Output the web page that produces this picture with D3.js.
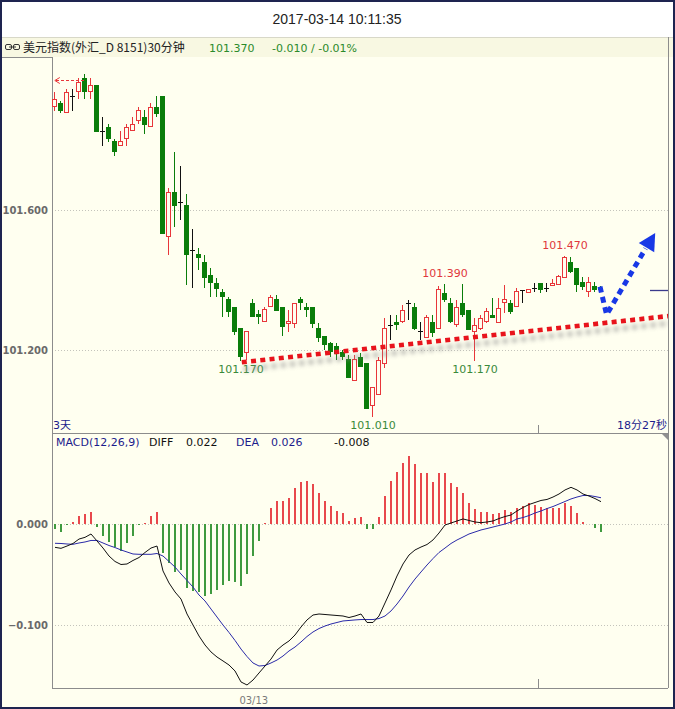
<!DOCTYPE html>
<html><head><meta charset="utf-8">
<script src="https://cdn.jsdelivr.net/npm/d3@7/dist/d3.min.js"></script>
<style>html,body{margin:0;padding:0;background:#fff;} svg{display:block;}</style>
</head><body>
<svg id="c" width="675" height="709"></svg>
<script>
// ---------- DATA ----------
const titleText = "2017-03-14 10:11:35";
const symbolName = "美元指数(外汇_D 8151)30分钟";
const lastPrice = "101.370";
const changeText = "-0.010 / -0.01%";
const opens  = [101.895,101.905,101.876,101.927,101.936,101.976,101.936,101.956,101.825,101.836,101.797,101.784,101.804,101.825,101.855,101.865,101.836,101.895,101.926,101.524,101.652,101.624,101.613,101.486,101.473,101.452,101.414,101.392,101.367,101.345,101.322,101.262,101.191,101.333,101.302,101.279,101.322,101.345,101.322,101.274,101.274,101.345,101.322,101.322,101.262,101.240,101.219,101.211,101.195,101.173,101.112,101.181,101.162,101.041,101.071,101.160,101.272,101.281,101.281,101.333,101.322,101.255,101.233,101.281,101.259,101.364,101.333,101.271,101.333,101.314,101.252,101.259,101.281,101.300,101.276,101.333,101.333,101.324,101.371,101.364,101.376,101.392,101.376,101.383,101.386,101.405,101.452,101.433,101.395,101.367,101.383,101.377];
const highs  = [101.936,101.912,101.945,101.945,101.976,101.989,101.976,101.956,101.865,101.846,101.804,101.827,101.846,101.865,101.894,101.885,101.905,101.926,101.926,101.664,101.765,101.726,101.645,101.546,101.492,101.471,101.433,101.406,101.373,101.352,101.322,101.262,101.254,101.345,101.314,101.324,101.357,101.357,101.322,101.314,101.333,101.352,101.333,101.322,101.277,101.240,101.224,101.219,101.200,101.186,101.186,101.191,101.162,101.095,101.181,101.292,101.301,101.300,101.329,101.343,101.333,101.281,101.300,101.300,101.383,101.390,101.348,101.343,101.388,101.314,101.291,101.300,101.319,101.348,101.348,101.386,101.343,101.376,101.371,101.373,101.392,101.392,101.392,101.402,101.414,101.470,101.466,101.433,101.409,101.409,101.395,101.383];
const lows   = [101.884,101.876,101.876,101.884,101.916,101.916,101.916,101.824,101.784,101.794,101.755,101.784,101.784,101.825,101.846,101.817,101.836,101.865,101.531,101.471,101.551,101.571,101.386,101.377,101.429,101.377,101.352,101.352,101.295,101.295,101.243,101.170,101.171,101.293,101.274,101.279,101.322,101.312,101.240,101.252,101.262,101.314,101.295,101.262,101.224,101.200,101.181,101.171,101.171,101.119,101.112,101.152,101.031,101.010,101.071,101.148,101.229,101.257,101.276,101.286,101.257,101.229,101.233,101.238,101.259,101.338,101.276,101.267,101.293,101.257,101.170,101.257,101.276,101.291,101.276,101.305,101.303,101.324,101.333,101.364,101.367,101.364,101.367,101.383,101.386,101.405,101.421,101.367,101.371,101.352,101.367,101.366];
const closes = [101.916,101.884,101.936,101.927,101.965,101.936,101.956,101.824,101.825,101.804,101.765,101.797,101.836,101.846,101.885,101.844,101.895,101.874,101.531,101.651,101.612,101.624,101.471,101.486,101.464,101.405,101.391,101.373,101.352,101.309,101.252,101.181,101.254,101.293,101.295,101.316,101.352,101.312,101.267,101.283,101.333,101.333,101.314,101.274,101.233,101.214,101.195,101.189,101.181,101.119,101.173,101.152,101.031,101.093,101.171,101.262,101.272,101.271,101.314,101.333,101.259,101.255,101.293,101.248,101.373,101.343,101.281,101.322,101.300,101.257,101.271,101.291,101.312,101.291,101.319,101.345,101.309,101.369,101.371,101.373,101.376,101.371,101.376,101.392,101.411,101.465,101.424,101.386,101.381,101.395,101.371,101.370];
const macdHist = [-0.0052,-0.0076,-0.0005,0.0023,0.0082,0.0096,0.0122,-0.0027,-0.0116,-0.0175,-0.0225,-0.0267,-0.0191,-0.0116,-0.0005,0.0005,0.0082,0.0116,-0.0290,-0.0386,-0.0472,-0.0455,-0.0631,-0.0663,-0.0676,-0.0710,-0.0693,-0.0653,-0.0604,-0.0561,-0.0571,-0.0611,-0.0492,-0.0317,-0.0165,0.0005,0.0155,0.0231,0.0231,0.0260,0.0359,0.0419,0.0429,0.0393,0.0310,0.0231,0.0181,0.0132,0.0112,0.0033,0.0062,0.0072,-0.0052,-0.0047,0.0072,0.0280,0.0429,0.0512,0.0607,0.0673,0.0591,0.0508,0.0502,0.0413,0.0502,0.0502,0.0403,0.0369,0.0304,0.0205,0.0146,0.0122,0.0122,0.0099,0.0112,0.0139,0.0119,0.0155,0.0178,0.0205,0.0188,0.0171,0.0161,0.0161,0.0161,0.0211,0.0181,0.0106,0.0023,0,-0.0043,-0.0080];
const diffLine = [-0.0231,-0.0241,-0.0218,-0.0193,-0.0149,-0.0132,-0.0099,-0.0168,-0.0238,-0.0317,-0.0371,-0.0401,-0.0396,-0.0361,-0.0332,-0.0282,-0.0238,-0.0218,-0.0465,-0.0584,-0.0673,-0.0743,-0.0891,-0.1000,-0.1109,-0.1198,-0.1267,-0.1317,-0.1356,-0.1396,-0.1455,-0.1564,-0.1594,-0.1545,-0.1475,-0.1406,-0.1337,-0.1248,-0.1198,-0.1158,-0.1099,-0.1020,-0.0950,-0.0901,-0.0891,-0.0896,-0.0901,-0.0906,-0.0911,-0.0926,-0.0911,-0.0891,-0.0975,-0.0975,-0.0911,-0.0782,-0.0653,-0.0515,-0.0396,-0.0307,-0.0257,-0.0228,-0.0203,-0.0158,-0.0089,-0.0010,0.0010,0.0030,0.0050,0.0035,0.0020,0.0013,0.0020,0.0030,0.0054,0.0074,0.0089,0.0129,0.0163,0.0193,0.0213,0.0233,0.0243,0.0267,0.0297,0.0337,0.0363,0.0337,0.0297,0.0277,0.0252,0.0221];
const deaLine = [-0.0191,-0.0193,-0.0198,-0.0201,-0.0188,-0.0178,-0.0163,-0.0163,-0.0188,-0.0213,-0.0233,-0.0257,-0.0277,-0.0297,-0.0300,-0.0300,-0.0300,-0.0292,-0.0317,-0.0371,-0.0426,-0.0495,-0.0559,-0.0624,-0.0703,-0.0762,-0.0842,-0.0921,-0.1000,-0.1074,-0.1153,-0.1238,-0.1312,-0.1376,-0.1406,-0.1401,-0.1376,-0.1347,-0.1307,-0.1257,-0.1218,-0.1168,-0.1114,-0.1069,-0.1035,-0.1010,-0.0990,-0.0975,-0.0960,-0.0955,-0.0950,-0.0946,-0.0946,-0.0946,-0.0936,-0.0911,-0.0861,-0.0792,-0.0713,-0.0624,-0.0545,-0.0475,-0.0406,-0.0342,-0.0282,-0.0238,-0.0193,-0.0158,-0.0129,-0.0099,-0.0079,-0.0059,-0.0045,-0.0030,-0.0015,0.0000,0.0020,0.0050,0.0064,0.0084,0.0109,0.0129,0.0153,0.0173,0.0198,0.0223,0.0248,0.0267,0.0282,0.0282,0.0272,0.0260];
const priceTicks = [101.2, 101.6];
const macdTicks = [0, -0.1];
const extremeLabels = [
  {i:31, v:101.170, kind:"low"}, {i:53, v:101.010, kind:"low"},
  {i:65, v:101.390, kind:"high"}, {i:70, v:101.170, kind:"low"},
  {i:85, v:101.470, kind:"high"}];
const trendLine = [{i:31.3, v:101.165}, {i:102.4, v:101.297}];
const forecastPath = [{i:91, v:101.381}, {i:92.1, v:101.301}, {i:98.6, v:101.49}];
const forecastTip = {i:100.2, v:101.534};
const offscreenHigh = {from:5, to:0.3, v:101.970};
const dayLabels = [{label:"03/13", i:33.3}];
const daySeparators = [80.7];
const macdLegend = {name:"MACD(12,26,9)", diff:"0.022", dea:"0.026", macd:"-0.008"};

// ---------- DRAW ----------
const svg = d3.select("#c");
const W = 675, H = 709;
const L = 52, R = 668, PT = 57, PB = 433, MB = 688;
const cream = "#fffff0", red = "#e8363a", green = "#0a7d0a", navy = "#1c1c8c";
const numFont = "'DejaVu Sans', Verdana, sans-serif";
const cjkFont = "'DejaVu Sans','Noto Sans CJK SC',sans-serif";

const defs = svg.append("defs");
defs.append("filter").attr("id","blur").attr("x","-10%").attr("y","-100%").attr("width","120%").attr("height","300%")
  .append("feGaussianBlur").attr("stdDeviation", 2.2);
defs.append("clipPath").attr("id","clipP").append("rect").attr("x",L).attr("y",PT).attr("width",R-L).attr("height",PB-PT);

svg.append("rect").attr("width",W).attr("height",H).attr("fill","#fff");
svg.append("rect").attr("x",0).attr("y",57).attr("width",W).attr("height",H-57).attr("fill",cream);
svg.append("rect").attr("x",0).attr("y",37).attr("width",W).attr("height",20).attr("fill","#f8f8e2");
svg.append("line").attr("x1",0).attr("x2",W).attr("y1",37.5).attr("y2",37.5).attr("stroke","#d8d8c8");

// title
svg.append("text").attr("x",337).attr("y",24).attr("text-anchor","middle")
  .attr("font-family","'Liberation Sans',Arial,sans-serif").attr("font-size",14).attr("fill","#222").text(titleText);
// header icon
const ic = svg.append("g").attr("fill","none").attr("stroke","#333").attr("stroke-width",1);
ic.append("rect").attr("x",5.5).attr("y",44.5).attr("width",6).attr("height",5).attr("rx",1.5);
ic.append("rect").attr("x",13.5).attr("y",44.5).attr("width",6).attr("height",5).attr("rx",1.5);
ic.append("line").attr("x1",9).attr("x2",16).attr("y1",47).attr("y2",47);
svg.append("text").attr("x",23).attr("y",52).attr("font-family","'Noto Sans CJK SC',sans-serif").attr("font-size",12).attr("fill","#222").text(symbolName);
svg.append("text").attr("x",209).attr("y",52).attr("font-family",numFont).attr("font-size",11).attr("fill","#2a8a2a").text(lastPrice);
svg.append("text").attr("x",272).attr("y",52).attr("font-family",numFont).attr("font-size",11).attr("fill","#2a8a2a").text(changeText);

// scales
const x = d3.scaleLinear().domain([0, 91]).range([54, 600]);
const yP = d3.scaleLinear().domain([101.2, 101.6]).range([350, 210]);
const yM = d3.scaleLinear().domain([-0.1, 0]).range([625, 524]);

// gridlines
svg.append("g").selectAll("line").data(priceTicks).join("line")
  .attr("x1",L).attr("x2",R).attr("y1",d=>Math.round(yP(d))+0.5).attr("y2",d=>Math.round(yP(d))+0.5)
  .attr("stroke","#c4c4bc").attr("stroke-dasharray","1,2");
svg.append("g").selectAll("line").data(macdTicks).join("line")
  .attr("x1",L).attr("x2",R).attr("y1",d=>Math.round(yM(d))+0.5).attr("y2",d=>Math.round(yM(d))+0.5)
  .attr("stroke","#c4c4bc").attr("stroke-dasharray","1,2");

// axes labels
const axP = svg.append("g").attr("transform",`translate(${L},0)`)
  .call(d3.axisLeft(yP).tickValues(priceTicks).tickFormat(d3.format(".3f")).tickSize(0).tickPadding(4));
const axM = svg.append("g").attr("transform",`translate(${L},0)`)
  .call(d3.axisLeft(yM).tickValues(macdTicks).tickFormat(d3.format(".3f")).tickSize(0).tickPadding(4));
[axP, axM].forEach(a=>{ a.select(".domain").remove();
  a.selectAll("text").attr("font-family",numFont).attr("font-size",10).attr("fill","#6a6a6a").attr("font-weight","bold"); });

// frame lines
const frame = svg.append("g").attr("stroke","#8c8c8c").attr("shape-rendering","crispEdges");
frame.append("line").attr("x1",L+0.5).attr("x2",L+0.5).attr("y1",PT).attr("y2",MB);
frame.append("line").attr("x1",0).attr("x2",L).attr("y1",PT+0.5).attr("y2",PT+0.5);
frame.append("line").attr("x1",L).attr("x2",R).attr("y1",PB+0.5).attr("y2",PB+0.5);
frame.append("line").attr("x1",L).attr("x2",R).attr("y1",MB+0.5).attr("y2",MB+0.5);
frame.append("line").attr("x1",R+0.5).attr("x2",R+0.5).attr("y1",PT-20).attr("y2",MB);
daySeparators.forEach(i=>{
  const xx = Math.round(x(i))+0.5;
  frame.append("line").attr("x1",xx).attr("x2",xx).attr("y1",PB-8).attr("y2",PB);
  frame.append("line").attr("x1",xx).attr("x2",xx).attr("y1",MB-9).attr("y2",MB);
});
svg.append("polygon").attr("points",`${R-6},${PB+1} ${R},${PB+1} ${R},${PB+7}`).attr("fill","#909090");

// x labels
svg.append("g").selectAll("text").data(dayLabels).join("text")
  .attr("x",d=>x(d.i)).attr("y",704).attr("text-anchor","middle")
  .attr("font-family",numFont).attr("font-size",10).attr("fill","#7a7a7a").text(d=>d.label);

// ---------- candles ----------
const idx = d3.range(opens.length);
const cg = svg.append("g").attr("shape-rendering","crispEdges");
idx.forEach(i=>{
  const o=opens[i], c=closes[i], h=highs[i], l=lows[i];
  const cx = Math.round(x(i));
  const col = c>o ? red : (c<o ? green : "#111");
  cg.append("line").attr("x1",cx+0.5).attr("x2",cx+0.5).attr("y1",yP(h)).attr("y2",yP(l)).attr("stroke",col);
  if (c>o) {
    cg.append("rect").attr("x",cx-1.5).attr("y",Math.round(yP(c))+0.5).attr("width",4)
      .attr("height",Math.max(1,Math.round(yP(o))-Math.round(yP(c))-1)).attr("fill",cream).attr("stroke",col);
  } else if (c<o) {
    cg.append("rect").attr("x",cx-2).attr("y",Math.round(yP(o))).attr("width",5)
      .attr("height",Math.max(1,Math.round(yP(c))-Math.round(yP(o)))).attr("fill",col);
  } else {
    cg.append("line").attr("x1",cx-2).attr("x2",cx+3).attr("y1",Math.round(yP(o))+0.5).attr("y2",Math.round(yP(o))+0.5).attr("stroke",col);
  }
});

// offscreen high marker (red dashed arrow)
const oy = Math.round(yP(offscreenHigh.v))+0.5;
svg.append("line").attr("x1",x(offscreenHigh.from)).attr("x2",x(offscreenHigh.to)).attr("y1",oy).attr("y2",oy)
  .attr("stroke",red).attr("stroke-dasharray","3,2");
svg.append("path").attr("d",`M${x(offscreenHigh.to)-1},${oy} l5,-3 M${x(offscreenHigh.to)-1},${oy} l5,3`).attr("stroke",red).attr("fill","none");

// extreme labels
svg.append("g").selectAll("text").data(extremeLabels).join("text")
  .attr("x",d=>x(d.i)+1).attr("y",d=>d.kind==="low"? yP(d.v)+12.5 : yP(d.v)-6.5)
  .attr("text-anchor","middle").attr("font-family",numFont).attr("font-size",11)
  .attr("fill",d=>d.kind==="low"?"#3a8a3a":"#e0383c").text(d=>d3.format(".3f")(d.v));

// trend line with shadow
const lineGen = d3.line().x(d=>x(d.i)).y(d=>yP(d.v));
const tg = svg.append("g").attr("clip-path","url(#clipP)");
tg.append("path").attr("d",lineGen(trendLine)).attr("transform","translate(2,7)")
  .attr("stroke","#8a8a8a").attr("stroke-width",5).attr("fill","none").attr("opacity",0.6)
  .attr("stroke-dasharray","5,4.3").attr("filter","url(#blur)");
tg.append("path").attr("d",lineGen(trendLine))
  .attr("stroke","#e8141c").attr("stroke-width",4.6).attr("fill","none").attr("stroke-dasharray","5,4.3");

// forecast arrow
svg.append("path").attr("d",lineGen(forecastPath))
  .attr("stroke","#1838e6").attr("stroke-width",5).attr("fill","none").attr("stroke-dasharray","6,4.5").attr("stroke-linejoin","round");
{
  const last = forecastPath[1];
  const tx = x(forecastTip.i), ty = yP(forecastTip.v), bx0 = x(last.i), by0 = yP(last.v);
  const dx = tx-bx0, dy = ty-by0, len = Math.hypot(dx,dy), ux = dx/len, uy = dy/len;
  const mx = tx-17*ux, my = ty-17*uy, px = -uy, py = ux;
  svg.append("polygon").attr("points",`${tx},${ty} ${mx+9*px},${my+9*py} ${mx-9*px},${my-9*py}`).attr("fill","#1838e6");
}
// current price marker
svg.append("line").attr("x1",650).attr("x2",R).attr("y1",Math.round(yP(closes[closes.length-1]))+0.5)
  .attr("y2",Math.round(yP(closes[closes.length-1]))+0.5).attr("stroke","#3a3a8c").attr("stroke-width",1.3);

// price panel footer texts
svg.append("text").attr("x",53).attr("y",429).attr("font-family",cjkFont).attr("font-size",11).attr("fill",navy).text("3天");
svg.append("text").attr("x",667).attr("y",429).attr("text-anchor","end").attr("font-family",cjkFont).attr("font-size",11).attr("fill",navy).text("18分27秒");

// ---------- MACD ----------
const mg = svg.append("g").attr("shape-rendering","crispEdges");
mg.selectAll("rect").data(idx).join("rect")
  .attr("x",i=>Math.round(x(i))).attr("width",2)
  .attr("y",i=>Math.min(yM(0), yM(macdHist[i]))).attr("height",i=>Math.abs(yM(macdHist[i])-yM(0)))
  .attr("fill",i=>macdHist[i]>=0?"#e8484c":"#3f9a3f");
const ml = d3.line().x(i=>x(i)+1);
svg.append("path").attr("d",ml.y(i=>yM(deaLine[i]))(idx)).attr("stroke","#2a2aa8").attr("fill","none").attr("stroke-width",1);
svg.append("path").attr("d",ml.y(i=>yM(diffLine[i]))(idx)).attr("stroke","#111").attr("fill","none").attr("stroke-width",1);

const lg = svg.append("g").attr("font-family",numFont).attr("font-size",11);
lg.append("text").attr("x",56).attr("y",446).attr("fill",navy).text(macdLegend.name);
lg.append("text").attr("x",149).attr("y",446).attr("fill","#111").text("DIFF");
lg.append("text").attr("x",186).attr("y",446).attr("fill","#111").text(macdLegend.diff);
lg.append("text").attr("x",236).attr("y",446).attr("fill",navy).text("DEA");
lg.append("text").attr("x",271).attr("y",446).attr("fill",navy).text(macdLegend.dea);
lg.append("text").attr("x",334).attr("y",446).attr("fill","#111").text(macdLegend.macd);

// outer border
svg.append("rect").attr("x",1).attr("y",1).attr("width",W-2).attr("height",H-2).attr("fill","none").attr("stroke","#1e2450").attr("stroke-width",2);
</script>
</body></html>
